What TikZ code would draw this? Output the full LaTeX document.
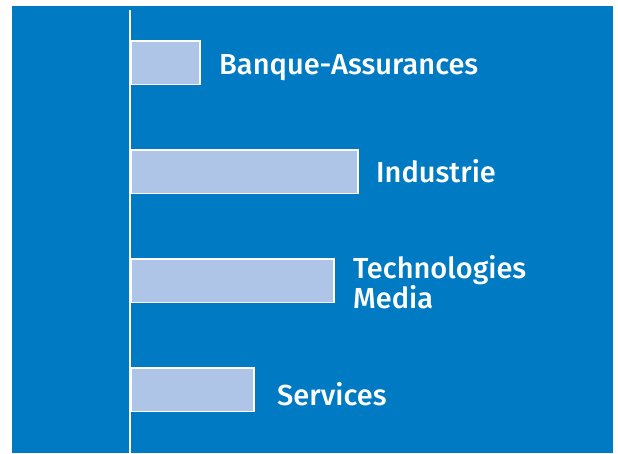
\documentclass[tikz,border=0pt]{standalone}
\usepackage{fontspec}
\setmainfont{Fira Sans}[UprightFont={* Medium}]
\definecolor{panelblue}{HTML}{007AC2}
\definecolor{barblue}{HTML}{AEC5E7}
\begin{document}
\begin{tikzpicture}[x=1pt, y=1pt,
  bar/.style={draw=white, line width=1.6pt, fill=barblue, anchor=south west,
    inner sep=0pt, minimum height=43.5pt},
  label/.style={text=white, anchor=base west, inner sep=0pt,
    font=\fontsize{29}{30}\selectfont, align=left}]
  \useasboundingbox (0,0) rectangle (618,453);
  \fill[panelblue] (12,0) rectangle (613,447);
  \coordinate (top) at (130,443);
  \coordinate (bottom) at (130,0);
  \draw[white, line width=2pt] (bottom) -- (top);
  \node[bar, minimum width=68.5pt] (banque) at (130.8,367.8) {};
  \node[bar, minimum width=226.5pt] (industrie) at (130.8,258.8) {};
  \node[bar, minimum width=202.5pt] (techno) at (130.8,149.8) {};
  \node[bar, minimum width=122.5pt] (services) at (130.8,40.8) {};
  \node[label] (lbanque) at (219,378) {Banque-Assurances};
  \node[label] (lindustrie) at (376,270) {Industrie};
  \node[label] (ltechno) at (353,175) {Technologies};
  \node[label] (lmedia) at (353,145) {Media};
  \node[label] (lservices) at (277,48) {Services};
\end{tikzpicture}
\end{document}
